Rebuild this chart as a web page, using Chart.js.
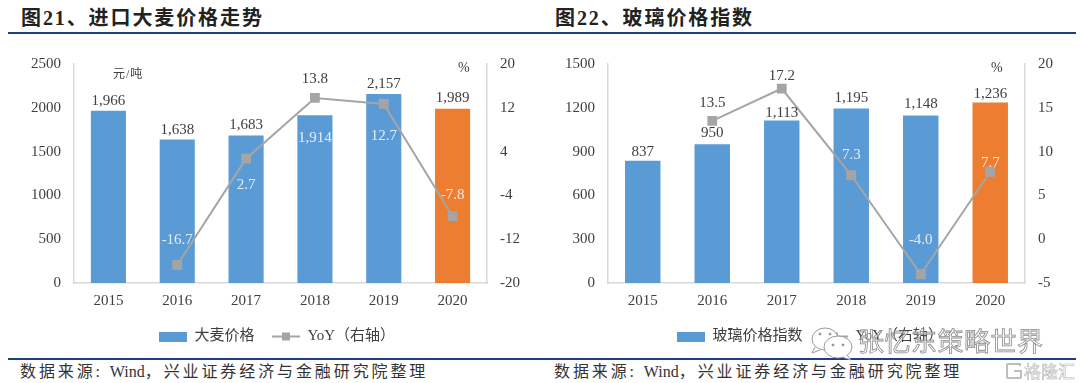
<!DOCTYPE html>
<html>
<head>
<meta charset="utf-8">
<script src="https://cdn.jsdelivr.net/npm/chart.js@4"></script>
<style>
  html, body { margin: 0; padding: 0; background: #fff; }
  #page { position: relative; width: 1080px; height: 383px; overflow: hidden; font-family: "Liberation Serif", "Noto Sans CJK SC", serif; color: #222; }
  #page canvas { position: absolute; top: 40px; }
  .title { position: absolute; top: 4px; font-size: 20px; font-weight: 700; letter-spacing: 1.9px; line-height: 28px; white-space: nowrap; }
  .rule { position: absolute; height: 2px; background: #1f3f7f; }
  .source { position: absolute; top: 360px; font-size: 16px; letter-spacing: 2.9px; line-height: 24px; white-space: nowrap; color: #333; }
  .source span { letter-spacing: 0; }
  .unit { position: absolute; color: #404040; white-space: nowrap; }
  .mark { position: absolute; white-space: nowrap; font-family: "Noto Sans CJK SC", sans-serif; }
</style>
</head>
<body>
<div id="page">
  <div class="title" style="left:21px">图21、进口大麦价格走势</div>
  <div class="title" style="left:555px">图22、玻璃价格指数</div>
  <div class="rule" style="left:8px;width:532px;top:32px"></div>
  <div class="rule" style="left:540px;width:536px;top:32px"></div>
  <canvas id="barley" width="540" height="314" style="left:0"></canvas>
  <canvas id="glass" width="540" height="314" style="left:540px"></canvas>
  <div class="unit" style="left:113px;top:64px;font-size:12px;letter-spacing:1px">元/吨</div>
  <div class="unit" style="left:458px;top:60px;font-size:14px">%</div>
  <div class="unit" style="left:991px;top:60px;font-size:14px">%</div>
  <div class="rule" style="left:8px;width:532px;top:358px"></div>
  <div class="rule" style="left:540px;width:536px;top:358px"></div>
  <div class="source" style="left:20px">数据来源: <span>Wind</span>，兴业证券经济与金融研究院整理</div>
  <div class="source" style="left:554px">数据来源: <span>Wind</span>，兴业证券经济与金融研究院整理</div>
  <svg class="mark" style="left:806px;top:326px" width="52" height="36" viewBox="0 0 52 36" fill="#fff" stroke="#9a9a9a" stroke-width="1">
    <ellipse cx="19" cy="13" rx="13" ry="11"/><path d="M9 21l-3 6 8-3"/>
    <ellipse cx="32" cy="21" rx="14" ry="11"/><path d="M41 29l4 5-9-3"/>
    <circle cx="27" cy="19" r="1" fill="#777"/><circle cx="37" cy="19" r="1" fill="#777"/>
    <circle cx="14" cy="8" r="1" fill="#777"/><circle cx="24" cy="8" r="1" fill="#777"/>
  </svg>
  <div class="mark" style="left:858px;top:322px;font-size:26px;line-height:36px;letter-spacing:.5px;color:rgba(255,255,255,.55);-webkit-text-stroke:.8px #8a8a8a">张忆东策略世界</div>
  <svg class="mark" style="left:1005px;top:362px" width="18" height="18" viewBox="0 0 18 18" fill="none" stroke="#bdbdbd" stroke-width="2">
    <path d="M15 4V2H3a1 1 0 0 0-1 1v12a1 1 0 0 0 1 1h12a1 1 0 0 0 1-1V9H9"/>
  </svg>
  <div class="mark" style="left:1024px;top:360px;font-size:17px;line-height:22px;color:rgba(255,255,255,.7);-webkit-text-stroke:.6px #b5b5b5">格隆汇</div>
</div>
<script>
const years = ['2015', '2016', '2017', '2018', '2019', '2020'];

const barleyPrice = [1966, 1638, 1683, 1914, 2157, 1989];
const barleyYoy = [null, -16.7, 2.7, 13.8, 12.7, -7.8];
const glassIndex = [837, 950, 1113, 1195, 1148, 1236];
const glassYoy = [null, 13.5, 17.2, 7.3, -4.0, 7.7];

// label nudges in px from the bar top / marker, and which ones sit on a dark fill
const barleyBarDy = [-10, -9, -11, 23, -10, -11];
const barleyBarLight = [false, false, false, true, false, false];
const barleyLineDy = [0, -25, 26, -19, 32, -21];
const barleyLineLight = [false, true, true, false, true, true];
const glassBarDy = [-9, -11, -7, -10, -11, -8];
const glassBarLight = [false, false, false, false, false, false];
const glassLineDy = [0, -18, -12, -20, -34, -9];
const glassLineLight = [false, false, false, true, true, true];

const BLUE = '#5B9BD5';
const ORANGE = '#ED7D31';
const GREY = '#A5A5A5';
const AXIS = '#D9D9D9';
const TEXT = '#404040';
const serif = '"Liberation Serif", "Noto Sans CJK SC", serif';

function legendSample(isLine) {
  const c = document.createElement('canvas');
  c.width = 28;
  c.height = 10;
  const g = c.getContext('2d');
  if (isLine) {
    g.fillStyle = GREY;
    g.fillRect(0, 4, 28, 2);
    g.fillRect(10, 1, 8, 8);
  } else {
    g.fillStyle = BLUE;
    g.fillRect(0, 0, 28, 10);
  }
  return c;
}

const valueLabels = {
  id: 'valueLabels',
  afterDatasetsDraw(chart) {
    const ctx = chart.ctx;
    ctx.save();
    ctx.font = '15px ' + serif;
    ctx.textAlign = 'center';
    ctx.textBaseline = 'middle';
    chart.data.datasets.forEach((ds, i) => {
      const meta = chart.getDatasetMeta(i);
      meta.data.forEach((el, j) => {
        const v = ds.data[j];
        if (v === null) return;
        ctx.fillStyle = ds.labelLight[j] ? 'rgba(255,255,255,.82)' : TEXT;
        const txt = ds.type === 'bar' ? v.toLocaleString('en-US') : v.toFixed(1);
        ctx.fillText(txt, el.x, el.y + ds.labelDy[j]);
      });
    });
    ctx.restore();
  }
};

function makeChart(id, cfg) {
  const nudgeLegend = {
    id: 'nudgeLegend',
    afterLayout(chart) {
      chart.legend.left += cfg.legendShift;
      chart.legend.right += cfg.legendShift;
    }
  };
  return new Chart(document.getElementById(id), {
    data: {
      labels: years,
      datasets: [
        {
          type: 'line', label: 'YoY（右轴）', data: cfg.yoy, yAxisID: 'y1', order: 0,
          borderColor: GREY, borderWidth: 2, backgroundColor: GREY,
          pointStyle: 'rect', pointRadius: 5.5, pointBackgroundColor: GREY, pointBorderColor: GREY,
          labelDy: cfg.lineDy, labelLight: cfg.lineLight
        },
        {
          type: 'bar', label: cfg.barName + '\u2002', data: cfg.bars, yAxisID: 'y', order: 1,
          backgroundColor: cfg.bars.map((v, i) => (i === cfg.bars.length - 1 ? ORANGE : BLUE)),
          categoryPercentage: 1, barPercentage: 0.51,
          labelDy: cfg.barDy, labelLight: cfg.barLight
        }
      ]
    },
    options: {
      responsive: false,
      animation: false,
      layout: { padding: { top: 24, left: 0, right: 0 } },
      scales: {
        x: {
          afterFit(s) { s.height += 8; },
          grid: { display: false },
          border: { color: AXIS, width: 1.5 },
          ticks: { color: TEXT, font: { family: serif, size: 15 }, padding: 1 }
        },
        y: {
          min: cfg.yMin, max: cfg.yMax,
          afterFit(s) { s.width = cfg.leftW; },
          grid: { display: false, drawTicks: false },
          border: { color: AXIS, width: 1.5 },
          ticks: { stepSize: cfg.yStep, color: TEXT, font: { family: serif, size: 15 }, padding: 13, callback: v => String(v) }
        },
        y1: {
          position: 'right', min: cfg.y1Min, max: cfg.y1Max,
          afterFit(s) { s.width = cfg.rightW; },
          grid: { display: false, drawTicks: false },
          border: { color: AXIS, width: 1.5 },
          ticks: { stepSize: cfg.y1Step, color: TEXT, font: { family: serif, size: 15 }, padding: 13 }
        }
      },
      plugins: {
        tooltip: { enabled: false },
        legend: {
          position: 'bottom',
          reverse: true,
          labels: {
            usePointStyle: true, pointStyleWidth: 28, boxHeight: 10, padding: 10,
            color: TEXT, font: { family: serif, size: 15 },
            generateLabels(chart) {
              return chart.data.datasets.map((ds, i) => ({
                text: ds.label, datasetIndex: i,
                pointStyle: legendSample(ds.type === 'line'),
                fontColor: TEXT, lineWidth: 0, hidden: false
              }));
            }
          }
        }
      }
    },
    plugins: [valueLabels, nudgeLegend]
  });
}

makeChart('barley', {
  bars: barleyPrice, yoy: barleyYoy, barName: '大麦价格',
  barDy: barleyBarDy, barLight: barleyBarLight, lineDy: barleyLineDy, lineLight: barleyLineLight,
  yMin: 0, yMax: 2500, yStep: 500, y1Min: -20, y1Max: 20, y1Step: 8,
  leftW: 74, rightW: 53, legendShift: 7
});
makeChart('glass', {
  bars: glassIndex, yoy: glassYoy, barName: '玻璃价格指数',
  barDy: glassBarDy, barLight: glassBarLight, lineDy: glassLineDy, lineLight: glassLineLight,
  yMin: 0, yMax: 1500, yStep: 300, y1Min: -5, y1Max: 20, y1Step: 5,
  leftW: 68, rightW: 55, legendShift: 0
});
</script>
</body>
</html>
